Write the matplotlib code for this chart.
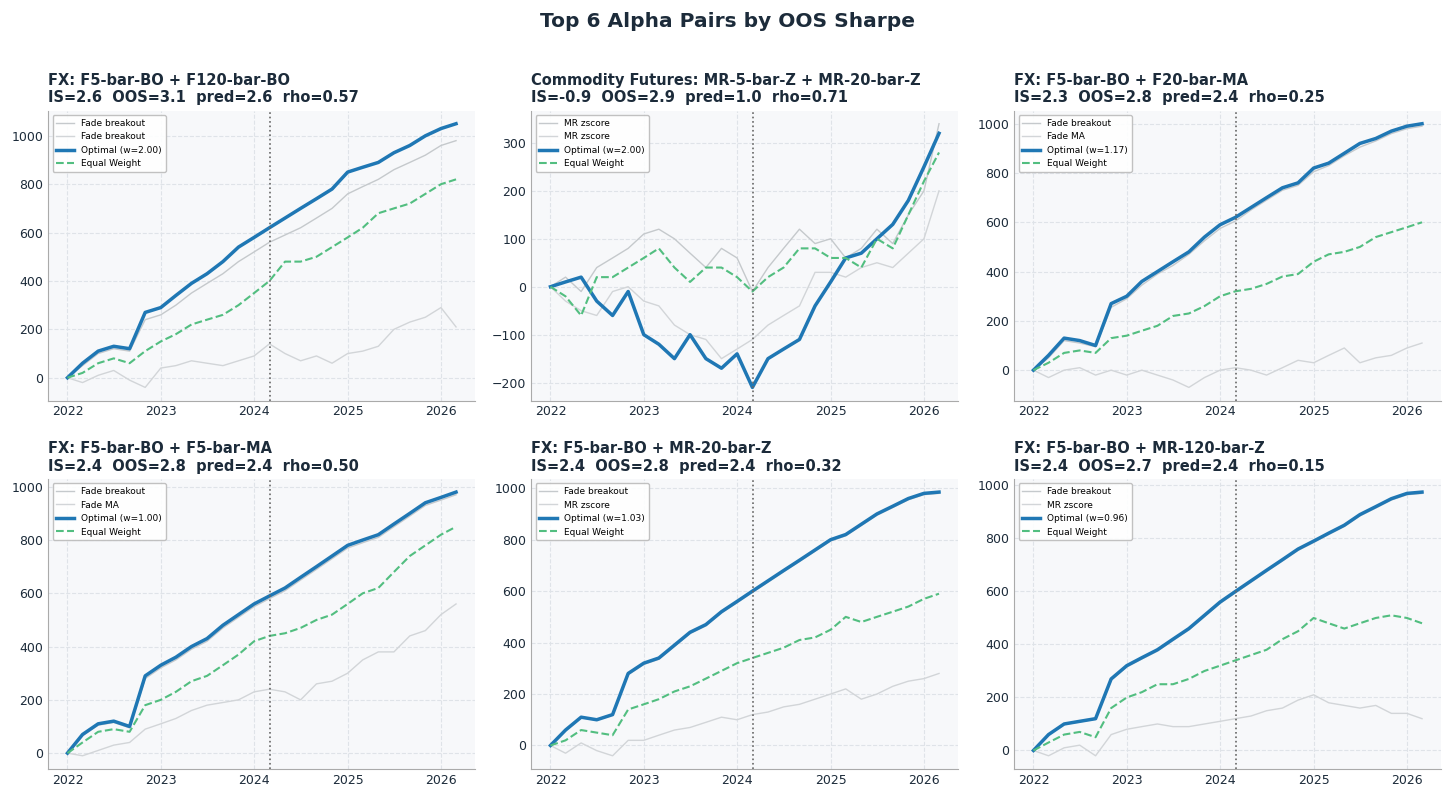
import matplotlib
matplotlib.use("Agg")
import matplotlib.pyplot as plt
import matplotlib.dates as mdates
import pandas as pd

dates = pd.date_range("2022-01-01", "2026-03-01", freq="2MS")
oos_split = pd.Timestamp("2024-03-05")

titles = [
    "FX: F5-bar-BO + F120-bar-BO\nIS=2.6  OOS=3.1  pred=2.6  rho=0.57",
    "Commodity Futures: MR-5-bar-Z + MR-20-bar-Z\nIS=-0.9  OOS=2.9  pred=1.0  rho=0.71",
    "FX: F5-bar-BO + F20-bar-MA\nIS=2.3  OOS=2.8  pred=2.4  rho=0.25",
    "FX: F5-bar-BO + F5-bar-MA\nIS=2.4  OOS=2.8  pred=2.4  rho=0.50",
    "FX: F5-bar-BO + MR-20-bar-Z\nIS=2.4  OOS=2.8  pred=2.4  rho=0.32",
    "FX: F5-bar-BO + MR-120-bar-Z\nIS=2.4  OOS=2.7  pred=2.4  rho=0.15",
]
labels_a = ["Fade breakout", "MR zscore", "Fade breakout", "Fade breakout", "Fade breakout", "Fade breakout"]
labels_b = ["Fade breakout", "MR zscore", "Fade MA", "Fade MA", "MR zscore", "MR zscore"]
weights = ["2.00", "2.00", "1.17", "1.00", "1.03", "0.96"]

opt_1 = [0,60,110,130,120,270,290,340,390,430,480,540,580,620,660,700,740,780,850,870,890,930,960,1000,1030,1050]
a_1 = [0,50,100,120,110,240,260,300,350,390,430,480,520,560,590,620,660,700,760,790,820,860,890,920,960,980]
b_1 = [0,-20,10,30,-10,-40,40,50,70,60,50,70,90,140,100,70,90,60,100,110,130,200,230,250,290,210]
ew_1 = [0,20,60,80,60,110,150,180,220,240,260,300,350,400,480,480,500,540,580,620,680,700,720,760,800,820]

opt_2 = [0,10,20,-30,-60,-10,-100,-120,-150,-100,-150,-170,-140,-210,-150,-130,-110,-40,10,60,70,100,130,180,250,320]
a_2 = [0,20,-10,40,60,80,110,120,100,70,40,80,60,-10,40,80,120,90,100,60,80,120,90,150,200,340]
b_2 = [0,-30,-50,-60,-10,0,-30,-40,-80,-100,-110,-150,-130,-110,-80,-60,-40,30,30,20,40,50,40,70,100,200]
ew_2 = [0,-20,-60,20,20,40,60,80,40,10,40,40,20,-10,20,40,80,80,60,60,40,100,80,150,220,280]

opt_3 = [0,60,130,120,100,270,300,360,400,440,480,540,590,620,660,700,740,760,820,840,880,920,940,970,990,1000]
a_3 = [0,50,120,110,95,255,290,345,390,425,470,525,575,605,650,690,730,750,805,830,870,905,930,960,980,990]
b_3 = [0,-30,0,10,-20,0,-20,0,-20,-40,-70,-30,0,10,0,-20,10,40,30,60,90,30,50,60,90,110]
ew_3 = [0,30,70,80,70,130,140,160,180,220,230,260,300,320,330,350,380,390,440,470,480,500,540,560,580,600]

opt_4 = [0,70,110,120,100,290,330,360,400,430,480,520,560,590,620,660,700,740,780,800,820,860,900,940,960,980]
a_4 = [0,65,105,115,95,280,320,350,390,420,470,510,550,580,610,650,690,730,770,790,810,850,890,930,950,970]
b_4 = [0,-10,10,30,40,90,110,130,160,180,190,200,230,240,230,200,260,270,300,350,380,380,440,460,520,560]
ew_4 = [0,40,80,90,80,180,200,230,270,290,330,370,420,440,450,470,500,520,560,600,620,680,740,780,820,850]

opt_5 = [0,60,110,100,120,280,320,340,390,440,470,520,560,600,640,680,720,760,800,820,860,900,930,960,980,985]
a_5 = [0,58,108,98,118,275,315,335,385,435,465,515,555,595,635,675,715,755,795,815,855,895,925,955,975,980]
b_5 = [0,-30,10,-20,-40,20,20,40,60,70,90,110,100,120,130,150,160,180,200,220,180,200,230,250,260,280]
ew_5 = [0,20,60,50,40,140,160,180,210,230,260,290,320,340,360,380,410,420,450,500,480,500,520,540,570,590]

opt_6 = [0,60,100,110,120,270,320,350,380,420,460,510,560,600,640,680,720,760,790,820,850,890,920,950,970,975]
a_6 = [0,58,98,108,118,265,315,345,375,415,455,505,555,595,635,675,715,755,785,815,845,885,915,945,965,970]
b_6 = [0,-20,10,20,-20,60,80,90,100,90,90,100,110,120,130,150,160,190,210,180,170,160,170,140,140,120]
ew_6 = [0,30,60,70,50,160,200,220,250,250,270,300,320,340,360,380,420,450,500,480,460,480,500,510,500,480]

panels = [(opt_1, a_1, b_1, ew_1), (opt_2, a_2, b_2, ew_2), (opt_3, a_3, b_3, ew_3),
          (opt_4, a_4, b_4, ew_4), (opt_5, a_5, b_5, ew_5), (opt_6, a_6, b_6, ew_6)]

navy = "#1c2b3a"
fig, axes = plt.subplots(2, 3, figsize=(14.56, 8.01), dpi=100)
fig.subplots_adjust(left=0.033, right=0.99, top=0.862, bottom=0.04, wspace=0.13, hspace=0.27)
fig.suptitle("Top 6 Alpha Pairs by OOS Sharpe", fontsize=14.5, fontweight="bold", color=navy, y=0.985)

for i, ax in enumerate(axes.flat):
    opt, a, b, ew = panels[i]
    ax.set_facecolor("#f7f8fa")
    ax.grid(True, linestyle="--", color="#dfe3e8", linewidth=0.8)
    ax.set_axisbelow(True)
    ax.plot(dates, a, color="#c5c9cc", lw=1.0, label=labels_a[i])
    ax.plot(dates, b, color="#d2d5d8", lw=1.0, label=labels_b[i])
    ax.plot(dates, opt, color="#1f77b4", lw=2.5, label=f"Optimal (w={weights[i]})")
    ax.plot(dates, ew, color="#52be80", lw=1.5, ls="--", label="Equal Weight")
    ax.axvline(oos_split, color="#666666", ls=":", lw=1.2)
    ax.set_title(titles[i], loc="left", fontsize=10.5, fontweight="bold", color=navy)
    ax.xaxis.set_major_locator(mdates.YearLocator())
    ax.xaxis.set_major_formatter(mdates.DateFormatter("%Y"))
    for s in ["top", "right"]:
        ax.spines[s].set_visible(False)
    for s in ["left", "bottom"]:
        ax.spines[s].set_color("#aaaaaa")
    ax.tick_params(colors=navy, labelsize=9, length=0)
    ax.legend(loc="upper left", fontsize=6.5, frameon=True, framealpha=0.9, edgecolor="#bbbbbb")

fig.savefig("out.png", dpi=100)
